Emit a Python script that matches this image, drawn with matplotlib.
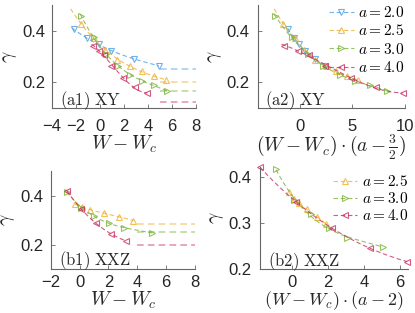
import numpy as np
import matplotlib
matplotlib.use('Agg')
import matplotlib.pyplot as plt

plt.rcParams['mathtext.fontset'] = 'cm'
plt.rcParams['font.family'] = ['Liberation Sans', 'DejaVu Sans']

# ---------------- data ----------------
a_xy = [2.0, 2.5, 3.0, 4.0]
xy_x = [
    [-2.19, -1.08, -0.11, 0.92, 2.81, 4.89],
    [-1.62, -0.47, 0.44, 1.42, 2.47, 3.50, 4.47, 5.53],
    [-1.56, -0.53, 0.50, 1.50, 2.53, 3.50, 4.47, 5.58],
    [-0.59, -0.06, 0.35, 0.95, 1.95, 2.90, 3.93],
]
xy_y = [
    [0.405, 0.371, 0.348, 0.321, 0.292, 0.264],
    [0.428, 0.371, 0.326, 0.288, 0.262, 0.243, 0.224, 0.209],
    [0.456, 0.375, 0.311, 0.262, 0.228, 0.206, 0.190, 0.166],
    [0.342, 0.323, 0.305, 0.265, 0.215, 0.180, 0.158],
]
xy_fit_start = [-2.35, -2.45, -1.65, -0.70]
xy_limit = [0.25, 0.20, 0.167, 0.125]
xy_limit_range = [5.0, 8.0]

a_xxz = [2.5, 3.0, 4.0]
xxz_x = [
    [-0.31, 0.19, 0.73, 1.72, 2.73, 3.73],
    [-0.89, 0.10, 1.03, 2.04, 3.08, 5.04],
    [-0.89, 0.10, 1.12, 2.16, 3.20],
]
xxz_y = [
    [0.366, 0.352, 0.343, 0.329, 0.313, 0.298],
    [0.416, 0.350, 0.318, 0.288, 0.268, 0.248],
    [0.420, 0.346, 0.288, 0.245, 0.216],
]
xxz_limit = [0.286, 0.25, 0.20]
xxz_limit_range = [4.0, 8.0]

# ---------------- style ----------------
col = {2.0: '#4C9FE3', 2.5: '#F0B030', 3.0: '#7DB33A', 4.0: '#C8325F'}
mk = {2.0: 'v', 2.5: '^', 3.0: '>', 4.0: '<'}
ALPHA = 0.8
MS = 4.8
SPINE = '#666666'
TXT = '#262626'
DASH = (0, (4, 2.5))

fig = plt.figure(figsize=(4.15, 3.13), dpi=100)
W, H = 415.0, 313.0
ax_a1 = fig.add_axes([52 / W, 1 - 108 / H, 144 / W, 103 / H])
ax_a2 = fig.add_axes([258 / W, 1 - 108 / H, 146.5 / W, 103 / H])
ax_b1 = fig.add_axes([50.7 / W, 1 - 269.3 / H, 144.3 / W, 98.3 / H])
ax_b2 = fig.add_axes([260 / W, 1 - 269 / H, 148 / W, 101.7 / H])


def style(ax, xpad, ypad):
    for s in ['top', 'right']:
        ax.spines[s].set_visible(False)
    for s in ['left', 'bottom']:
        ax.spines[s].set_color(SPINE)
        ax.spines[s].set_linewidth(0.8)
    ax.tick_params(axis='both', direction='in', length=3, width=0.6,
                   color=SPINE, labelsize=12, labelcolor=TXT)
    ax.tick_params(axis='x', pad=xpad)
    ax.tick_params(axis='y', pad=ypad)


def fit_curve(x, y, x0, scale=1.0):
    deg = min(3, len(x) - 1)
    p = np.polyfit(x, y, deg)
    xx = np.linspace(x0, max(x), 200)
    return xx * scale, np.polyval(p, xx)


def draw_series(ax, x, y, a, scale, fit0=None):
    c = col[a]
    x = np.asarray(x)
    y = np.asarray(y)
    x0 = fit0 if fit0 is not None else x.min()
    fx, fy = fit_curve(x, y, x0, scale)
    ax.plot(fx, fy, ls=DASH, lw=0.8, color=c, alpha=ALPHA)
    ax.plot(x * scale, y, ls='none', marker=mk[a], ms=MS, mfc='none',
            mec=c, mew=0.8, alpha=ALPHA, clip_on=False)


def legend_handles(ax, alist):
    hs = []
    for a in alist:
        h, = ax.plot([], [], ls=DASH, lw=0.8, color=col[a],
                     marker=mk[a], ms=MS, mfc='none', mec=col[a], mew=0.8,
                     alpha=ALPHA, label=r'$a = %.1f$' % a)
        hs.append(h)
    return hs


# (a1)
for a, x, y, f0, lim in zip(a_xy, xy_x, xy_y, xy_fit_start, xy_limit):
    draw_series(ax_a1, x, y, a, 1.0, f0)
    ax_a1.plot(xy_limit_range, [lim, lim], ls=DASH, lw=1.2,
               color=col[a], alpha=0.5)
ax_a1.set_xlim(-4, 8)
ax_a1.set_ylim(0.1, 0.5)
ax_a1.set_xticks([-4, -2, 0, 2, 4, 6, 8])
ax_a1.set_yticks([0.2, 0.4])
style(ax_a1, 8, 5)

# (a2)
for a, x, y, f0 in zip(a_xy, xy_x, xy_y, xy_fit_start):
    draw_series(ax_a2, x, y, a, a - 1.5, f0)
ax_a2.set_xlim(-4, 10)
ax_a2.set_ylim(0.1, 0.5)
ax_a2.set_xticks([0, 5, 10])
ax_a2.set_yticks([0.2, 0.4])
style(ax_a2, 8, 6)
ax_a2.legend(handles=legend_handles(ax_a2, a_xy), loc='upper right',
             bbox_to_anchor=(1.0, 1.0), frameon=False, fontsize=11,
             handlelength=1.6, handletextpad=0.3, labelspacing=0.22,
             borderpad=0, borderaxespad=0)

# (b1)
for a, x, y, lim in zip(a_xxz, xxz_x, xxz_y, xxz_limit):
    draw_series(ax_b1, x, y, a, 1.0)
    ax_b1.plot(xxz_limit_range, [lim, lim], ls=DASH, lw=1.2,
               color=col[a], alpha=0.5)
ax_b1.set_xlim(-2, 8)
ax_b1.set_ylim(0.1, 0.5)
ax_b1.set_xticks([-2, 0, 2, 4, 6, 8])
ax_b1.set_yticks([0.2, 0.4])
style(ax_b1, 4, 5.5)

# (b2)
for a, x, y in zip(a_xxz, xxz_x, xxz_y):
    draw_series(ax_b2, x, y, a, a - 2.0)
ax_b2.set_xlim(-1.78, 6.45)
ax_b2.set_ylim(0.2, 0.42)
ax_b2.set_xticks([0, 2, 4, 6])
ax_b2.set_yticks([0.2, 0.3, 0.4])
style(ax_b2, 4, 6)
ax_b2.legend(handles=legend_handles(ax_b2, a_xxz), loc='upper right',
             bbox_to_anchor=(1.0, 0.93), frameon=False, fontsize=11,
             handlelength=1.6, handletextpad=0.3, labelspacing=0.12,
             borderpad=0, borderaxespad=0)

# labels
for ax in [ax_a1, ax_a2, ax_b1, ax_b2]:
    ax.set_ylabel(r'$\gamma$', fontsize=14, color=TXT, labelpad=2)
ax_a1.set_xlabel(r'$W - W_c$', fontsize=14, color=TXT, labelpad=0)
ax_b1.set_xlabel(r'$W - W_c$', fontsize=14, color=TXT, labelpad=0)
ax_a2.set_xlabel(r'$(W - W_c)\cdot(a - \frac{3}{2})$', fontsize=14, color=TXT, labelpad=-1)
ax_b2.set_xlabel(r'$(W - W_c)\cdot(a - 2)$', fontsize=13, color=TXT, labelpad=-0.5)

ax_a1.text(0.055, 0.03, r'$\mathrm{(a1)\ XY}$', transform=ax_a1.transAxes, fontsize=12, color=TXT)
ax_a2.text(0.048, 0.03, r'$\mathrm{(a2)\ XY}$', transform=ax_a2.transAxes, fontsize=12, color=TXT)
ax_b1.text(0.058, 0.04, r'$\mathrm{(b1)\ XXZ}$', transform=ax_b1.transAxes, fontsize=12, color=TXT)
ax_b2.text(0.055, 0.03, r'$\mathrm{(b2)\ XXZ}$', transform=ax_b2.transAxes, fontsize=12, color=TXT)

fig.savefig('out.png', dpi=100)
